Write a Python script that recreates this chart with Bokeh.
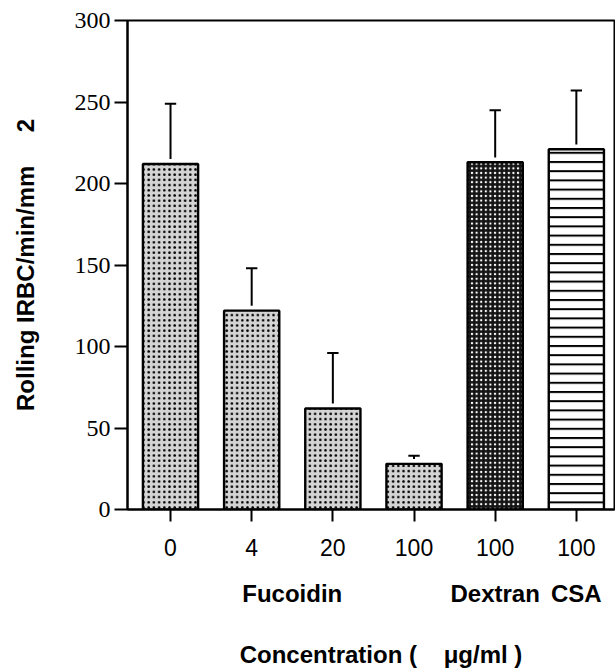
from bokeh.plotting import figure
from bokeh.models import LinearAxis, FixedTicker, ColumnDataSource, Range1d
from bokeh.embed import file_html
from bokeh.resources import INLINE

# ---- data ----
conc_labels = ["0", "4", "20", "100", "100", "100"]
agents = ["Fucoidin", "Fucoidin", "Fucoidin", "Fucoidin", "Dextran", "CSA"]
rolling_mean = [212, 122, 62, 28, 213, 221]
rolling_sem = [37, 26, 34, 5, 32, 36]
y_ticks = [0, 50, 100, 150, 200, 250, 300]

# ---- styles ----
styles = {
    "Fucoidin": dict(fill_color="#d4d4d4", hatch_pattern="dot", hatch_color="black",
                     hatch_scale=5.2, hatch_weight=4),
    "Dextran": dict(fill_color="#141414", hatch_pattern="dot", hatch_color="white",
                    hatch_scale=4.6, hatch_weight=1.6),
    "CSA": dict(fill_color="white", hatch_pattern="horizontal_line", hatch_color="black",
                hatch_scale=9.2, hatch_weight=2),
}
BAR_W = 0.68
CAP_W = 0.14
GAP = 3  # small gap between bar top and whisker, in data units
NBSP = "\u00a0"
LABEL_FONT = "Liberation Sans"

xs = list(range(1, len(conc_labels) + 1))

p = figure(width=615, height=670, x_range=Range1d(0.47, 6.47), y_range=Range1d(0, 300),
           output_backend="svg", toolbar_location=None,
           min_border_left=127, min_border_top=20, min_border_right=1, min_border_bottom=161)
p.xgrid.visible = False
p.ygrid.visible = False
p.outline_line_color = "black"
p.outline_line_width = 2
p.background_fill_color = "white"
p.border_fill_color = "white"

for agent, st in styles.items():
    idx = [i for i, a in enumerate(agents) if a == agent]
    src = ColumnDataSource(dict(
        x=[xs[i] for i in idx],
        top=[rolling_mean[i] for i in idx],
        lo=[rolling_mean[i] + GAP for i in idx],
        hi=[rolling_mean[i] + rolling_sem[i] for i in idx],
        cl=[xs[i] - CAP_W / 2 for i in idx],
        cr=[xs[i] + CAP_W / 2 for i in idx],
    ))
    p.vbar(x="x", top="top", bottom=0, width=BAR_W, source=src,
           line_color="black", line_width=2.4, **st)
    p.segment(x0="x", y0="lo", x1="x", y1="hi", source=src, line_color="black", line_width=2)
    p.segment(x0="cl", y0="hi", x1="cr", y1="hi", source=src, line_color="black", line_width=2)

# y axis
yax = p.yaxis[0]
yax.ticker = FixedTicker(ticks=y_ticks)
yax.minor_tick_line_color = None
yax.major_tick_in = 0
yax.major_tick_out = 13
yax.major_tick_line_width = 2
yax.axis_line_width = 2
yax.major_label_text_font = "Liberation Serif"
yax.major_label_text_font_size = "24px"
yax.major_label_text_color = "black"
yax.major_label_standoff = 4
yax.axis_label = "Rolling IRBC/min/mm" + NBSP * 5 + "2"
yax.axis_label_text_font = LABEL_FONT
yax.axis_label_text_font_style = "bold"
yax.axis_label_text_font_size = "24px"
yax.axis_label_text_color = "black"
yax.axis_label_standoff = 33

# x axis: concentrations
xax = p.xaxis[0]
xax.ticker = FixedTicker(ticks=xs)
xax.major_label_overrides = {x: lab for x, lab in zip(xs, conc_labels)}
xax.minor_tick_line_color = None
xax.major_tick_in = 0
xax.major_tick_out = 12
xax.major_tick_line_width = 2
xax.axis_line_width = 2
xax.major_label_text_font = LABEL_FONT
xax.major_label_text_font_size = "23px"
xax.major_label_text_color = "black"
xax.major_label_standoff = 17

# second x axis: agent names
agent_names = list(dict.fromkeys(agents))
agent_pos = [sum(x for x, a in zip(xs, agents) if a == n) / agents.count(n) for n in agent_names]
gax = LinearAxis(ticker=FixedTicker(ticks=agent_pos),
                 major_label_overrides={x: n for x, n in zip(agent_pos, agent_names)})
gax.axis_line_color = None
gax.major_tick_line_color = None
gax.minor_tick_line_color = None
gax.major_tick_out = 0
gax.major_tick_in = 0
gax.major_label_text_font = LABEL_FONT
gax.major_label_text_font_style = "bold"
gax.major_label_text_font_size = "24px"
gax.major_label_text_color = "black"
gax.major_label_standoff = 21
gax.axis_label = NBSP * 3 + "Concentration (" + NBSP * 4 + "\u03bcg/ml )"
gax.axis_label_text_font = LABEL_FONT
gax.axis_label_text_font_style = "bold"
gax.axis_label_text_font_size = "24px"
gax.axis_label_text_color = "black"
gax.axis_label_standoff = 31
p.add_layout(gax, "below")

open("out.html", "w").write(file_html(p, INLINE))
